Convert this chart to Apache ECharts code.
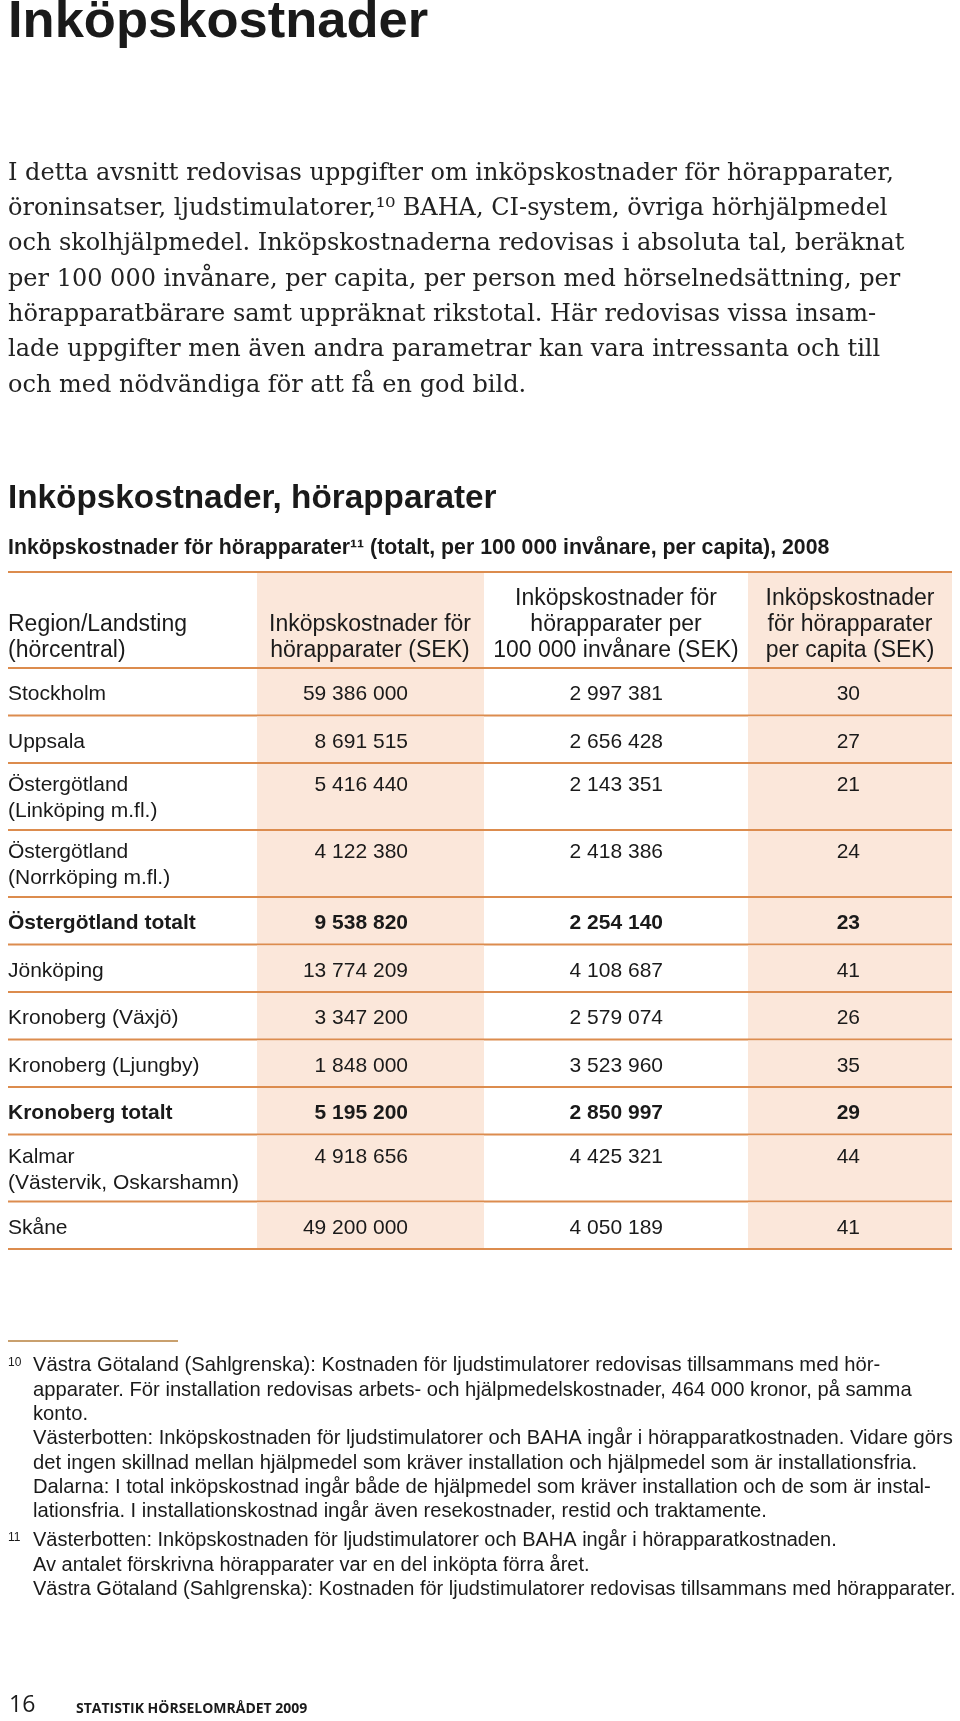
<!DOCTYPE html>
<html>
<head>
<meta charset="utf-8">
<script src="https://cdn.jsdelivr.net/npm/echarts@6/dist/echarts.min.js"></script>
<style>
  html, body { margin: 0; padding: 0; background: #fff; }
  #chart { width: 960px; height: 1721px; }
</style>
</head>
<body>
<div id="chart"></div>
<script>
// --- data ---
const regions = [
  'Stockholm',
  'Uppsala',
  'Östergötland\n(Linköping m.fl.)',
  'Östergötland\n(Norrköping m.fl.)',
  'Östergötland totalt',
  'Jönköping',
  'Kronoberg (Växjö)',
  'Kronoberg (Ljungby)',
  'Kronoberg totalt',
  'Kalmar\n(Västervik, Oskarshamn)',
  'Skåne'
]
const costTotal = [59386000, 8691515, 5416440, 4122380, 9538820, 13774209, 3347200, 1848000, 5195200, 4918656, 49200000]
const costPer100k = [2997381, 2656428, 2143351, 2418386, 2254140, 4108687, 2579074, 3523960, 2850997, 4425321, 4050189]
const costPerCapita = [30, 27, 21, 24, 23, 41, 26, 35, 29, 44, 41]
const headers = [
  'Region/Landsting\n(hörcentral)',
  'Inköpskostnader för\nhörapparater (SEK)',
  'Inköpskostnader för\nhörapparater per\n100 000 invånare (SEK)',
  'Inköpskostnader\nför hörapparater\nper capita (SEK)'
]

const pageTitle = 'Inköpskostnader'
const intro = [
  'I detta avsnitt redovisas uppgifter om inköpskostnader för hörapparater,',
  'öroninsatser, ljudstimulatorer,¹⁰ BAHA, CI-system, övriga hörhjälpmedel',
  'och skolhjälpmedel. Inköpskostnaderna redovisas i absoluta tal, beräknat',
  'per 100 000 invånare, per capita, per person med hörselnedsättning, per',
  'hörapparatbärare samt uppräknat rikstotal. Här redovisas vissa insam-',
  'lade uppgifter men även andra parametrar kan vara intressanta och till',
  'och med nödvändiga för att få en god bild.'
]
const tableTitle = 'Inköpskostnader, hörapparater'
const tableSubtitle = 'Inköpskostnader för hörapparater¹¹ (totalt, per 100 000 invånare, per capita), 2008'
const note10 = [
  'Västra Götaland (Sahlgrenska): Kostnaden för ljudstimulatorer redovisas tillsammans med hör-',
  'apparater. För installation redovisas arbets- och hjälpmedelskostnader, 464 000 kronor, på samma',
  'konto.',
  'Västerbotten: Inköpskostnaden för ljudstimulatorer och BAHA ingår i hörapparatkostnaden. Vidare görs',
  'det ingen skillnad mellan hjälpmedel som kräver installation och hjälpmedel som är installationsfria.',
  'Dalarna: I total inköpskostnad ingår både de hjälpmedel som kräver installation och de som är instal-',
  'lationsfria. I installationskostnad ingår även resekostnader, restid och traktamente.'
]
const note11 = [
  'Västerbotten: Inköpskostnaden för ljudstimulatorer och BAHA ingår i hörapparatkostnaden.',
  'Av antalet förskrivna hörapparater var en del inköpta förra året.',
  'Västra Götaland (Sahlgrenska): Kostnaden för ljudstimulatorer redovisas tillsammans med hörapparater.'
]
const pageNumber = '16'
const pageFooter = 'STATISTIK HÖRSELOMRÅDET 2009'

// --- layout / style ---
const SANS = '"Liberation Sans", Arial, sans-serif'
const SERIF = '"DejaVu Serif", serif'
const INK = '#1a1a1a'
const ORANGE = '#dc8c4e'
const SHADE = '#fbe7da'
const FS = 21
const HFS = 23
const colEdges = [0, 249, 476, 740, 944]   // in table units (px from table left)
const numRight = [400, 655, 852]
const headCenter = [362, 608, 842]
const HEAD_H = 96
const ROW_H = [47.5, 67]

let acc = 0
const rowData = regions.map((r, i) => {
  const top = acc
  acc += ROW_H[r.split('\n').length - 1]
  return [i, top, acc]
})
const tableH = acc

function fmt(v) {
  return String(v).replace(/\B(?=(\d{3})+(?!\d))/g, ' ')
}

function text(x, base, str, font, size, align, fill) {
  return {
    type: 'text',
    x: x,
    y: base - 0.31 * size,
    silent: true,
    style: {
      text: str,
      font: font,
      fill: fill || INK,
      align: align || 'left',
      verticalAlign: 'middle'
    }
  }
}

function shadeCells(X, yT, yB) {
  return [1, 3].map(c => ({
    type: 'rect',
    shape: { x: X(colEdges[c]), y: yT, width: X(colEdges[c + 1]) - X(colEdges[c]), height: yB - yT },
    style: { fill: SHADE }
  }))
}

function rule(X, y) {
  return { type: 'line', shape: { x1: X(0), y1: y, x2: X(944), y2: y }, style: { stroke: ORANGE, lineWidth: 2 } }
}

function renderHeader(params, api) {
  const yT = api.coord([0, -HEAD_H])[1]
  const yB = api.coord([0, 0])[1]
  const X = v => api.coord([v, 0])[0]
  const font = HFS + 'px ' + SANS
  const children = shadeCells(X, yT, yB)
  children.push(rule(X, yT))
  children.push(rule(X, yB))
  headers.forEach((h, c) => {
    const lines = h.split('\n')
    lines.forEach((t, k) => {
      const base = yB - 10 - (lines.length - 1 - k) * 26
      if (c === 0) children.push(text(X(0), base, t, font, HFS, 'left'))
      else children.push(text(X(headCenter[c - 1]), base, t, font, HFS, 'center'))
    })
  })
  return { type: 'group', children: children }
}

function renderRow(params, api) {
  const i = api.value(0)
  const yT = api.coord([0, api.value(1)])[1]
  const yB = api.coord([0, api.value(2)])[1]
  const X = v => api.coord([v, 0])[0]
  const lines = regions[i].split('\n')
  const bold = regions[i].indexOf('totalt') >= 0
  const font = (bold ? 'bold ' : '') + FS + 'px ' + SANS
  const base = yT + (lines.length === 1 ? 33 : 29)
  const children = shadeCells(X, yT + 1, yB)
  children.push(rule(X, yB))
  lines.forEach((t, k) => children.push(text(X(0), base + k * 26, t, font, FS, 'left')))
  ;[costTotal[i], costPer100k[i], costPerCapita[i]].forEach((v, c) => {
    children.push(text(X(numRight[c]), base, fmt(v), font, FS, 'right'))
  })
  return { type: 'group', children: children }
}

// page text (not data marks)
const graphics = []
graphics.push(text(8, 39, pageTitle, 'bold 52.5px ' + SANS, 52.5))
intro.forEach((t, k) => graphics.push(text(8, 181 + k * 35.3, t, '24px ' + SERIF, 24, 'left', '#222')))
graphics.push(text(8, 509, tableTitle, 'bold 33.3px ' + SANS, 33.3))
graphics.push(text(8, 555, tableSubtitle, 'bold 21.3px ' + SANS, 21.3))
graphics.push({ type: 'line', silent: true, shape: { x1: 8, y1: 1341, x2: 178, y2: 1341 }, style: { stroke: '#c9a06e', lineWidth: 2 } })
graphics.push(text(8, 1366, '10', '12px ' + SANS, 12))
note10.forEach((t, k) => graphics.push(text(33, 1372 + k * 24.3, t, '20.2px ' + SANS, 20.2)))
graphics.push(text(8, 1541, '11', '12px ' + SANS, 12))
note11.forEach((t, k) => graphics.push(text(33, 1547 + k * 24.3, t, '20px ' + SANS, 20)))
graphics.push(text(9, 1713, pageNumber, '23px "Open Sans", sans-serif', 23))
graphics.push(text(76, 1713, pageFooter, 'bold 14px "Open Sans", sans-serif', 14))

const chart = echarts.init(document.getElementById('chart'), null, { renderer: 'canvas' })
chart.setOption({
  animation: false,
  backgroundColor: '#fff',
  grid: { left: 8, top: 572, width: 944, height: HEAD_H + tableH },
  xAxis: { type: 'value', min: 0, max: 944, show: false },
  yAxis: { type: 'value', inverse: true, min: -HEAD_H, max: tableH, show: false },
  graphic: graphics,
  series: [
    {
      type: 'custom',
      name: 'header',
      clip: false,
      silent: true,
      renderItem: renderHeader,
      data: [[0]]
    },
    {
      type: 'custom',
      name: 'rows',
      clip: false,
      silent: true,
      renderItem: renderRow,
      encode: { x: -1, y: [1, 2] },
      data: rowData
    }
  ]
})
</script>
</body>
</html>
